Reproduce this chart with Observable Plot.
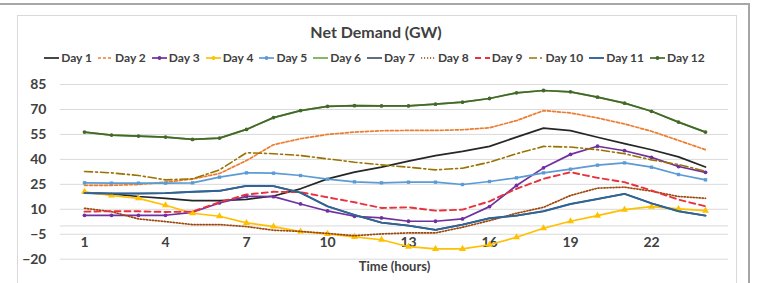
<!DOCTYPE html>
<html>
<head>
<meta charset="utf-8">
<script src="https://cdn.jsdelivr.net/npm/d3@7"></script>
<script src="https://cdn.jsdelivr.net/npm/@observablehq/plot@0.6"></script>
<style>
  html, body { margin: 0; padding: 0; background: #fff; }
  #wrap { position: relative; width: 759px; height: 283px; overflow: hidden; font-family: Lato, "Open Sans", sans-serif; }
  #outer { position: absolute; left: -4px; top: 3px; width: 754px; height: 300px; border: 2px solid #a6a6a6; box-sizing: border-box; }
  #inner { position: absolute; left: 17px; top: 15px; width: 720px; height: 300px; border: 1px solid #d9d9d9; box-sizing: border-box; }
  #title { position: absolute; left: 0; width: 752px; top: 22px; text-align: center; font-weight: bold; font-size: 16px; color: #404040; }
  #legend { position: absolute; left: 0; width: 749px; top: 50px; display: flex; justify-content: center; gap: 6px; font-weight: bold; font-size: 12px; color: #404040; }
  .item { display: flex; align-items: center; gap: 2px; }
  #chart { position: absolute; left: 0; top: 68px; }
</style>
</head>
<body>
<div id="wrap">
  <div id="outer"></div>
  <div id="inner"></div>
  <div id="title">Net Demand (GW)</div>
  <div id="legend"></div>
  <div id="chart"></div>
</div>
<script>
const hours = [1,2,3,4,5,6,7,8,9,10,11,12,13,14,15,16,17,18,19,20,21,22,23,24];
const yTicks = [85, 70, 55, 40, 25, 10, -5, -20];
const xTicks = [1, 4, 7, 10, 13, 16, 19, 22];
const seriesNames = ["Day 1","Day 2","Day 3","Day 4","Day 5","Day 6","Day 7","Day 8","Day 9","Day 10","Day 11","Day 12"];

const day1  = [19.9,19.3,17.7,16.5,15.2,15.2,16.0,18.0,22.3,28.3,32.3,35.3,38.9,42.3,44.8,47.8,53.4,58.8,57.3,53.3,49.5,45.8,41.5,35.4];
const day2  = [24.4,24.4,24.9,26.3,28.2,31.5,39.3,48.8,52.4,55.0,56.4,57.2,57.4,57.4,57.8,59.0,63.3,69.3,67.9,64.9,61.3,56.9,51.4,45.8];
const day3  = [6.4,6.4,6.4,6.4,8.2,13.8,17.8,17.6,13.2,9.0,5.8,4.8,2.8,2.8,4.2,11.6,24.3,34.9,43.0,47.9,45.2,41.2,35.7,32.2];
const day4  = [20.5,18.3,16.6,12.4,7.6,5.8,1.8,-0.4,-3.4,-4.8,-6.6,-8.3,-12.5,-13.8,-13.8,-11.3,-6.8,-1.4,2.8,6.2,9.8,11.6,10.2,9.2];
const day5  = [25.9,25.7,25.7,25.7,25.9,29.3,31.9,31.7,30.3,28.1,26.5,25.9,26.3,26.3,24.9,26.7,28.9,31.9,34.1,36.5,37.9,35.3,30.9,27.7];
const day6  = [56.4,54.6,54.0,53.4,52.0,52.8,58.0,65.1,69.3,71.9,72.3,72.1,72.1,73.2,74.4,76.6,80.0,81.4,80.6,77.4,73.8,68.9,62.4,56.4];
const day7  = [19.7,19.5,19.5,19.7,20.5,21.1,24.1,23.9,20.0,11.8,6.6,2.0,0.2,-2.4,0.8,4.6,6.2,8.8,13.2,16.2,19.3,13.6,8.8,6.2];
const day8  = [10.6,8.6,4.2,2.6,0.8,0.8,-0.4,-2.6,-3.3,-4.5,-5.9,-4.8,-4.2,-4.2,-0.8,3.2,7.6,11.2,18.3,22.7,23.3,20.9,17.7,16.6];
const day9  = [8.6,8.8,8.8,8.4,8.6,14.2,18.9,20.5,20.3,17.2,14.2,10.8,11.2,9.2,9.8,14.8,22.3,28.3,32.3,28.9,26.3,21.3,15.8,11.8];
const day10 = [32.7,31.9,30.3,27.7,28.3,33.7,44.0,43.4,42.3,40.3,38.3,36.7,35.3,33.7,34.7,38.3,43.4,47.8,47.4,45.8,43.4,39.7,36.9,32.9];
const day11 = [19.7,19.5,19.5,19.7,20.5,21.1,24.1,23.9,20.0,11.8,6.6,2.0,0.2,-2.4,0.8,4.6,6.2,8.8,13.2,16.2,19.3,13.6,8.8,6.2];
const day12 = [56.4,54.6,54.0,53.4,52.0,52.8,58.0,65.1,69.3,71.9,72.3,72.1,72.1,73.2,74.4,76.6,80.0,81.4,80.6,77.4,73.8,68.9,62.4,56.4];

const values = [day1,day2,day3,day4,day5,day6,day7,day8,day9,day10,day11,day12];

const styles = [
  {color:"#262626", dash:null, w:1.7, marker:null},
  {color:"#ED7D31", dash:"3,2", w:1.7, marker:null},
  {color:"#7030A0", dash:null, w:1.7, marker:"circle"},
  {color:"#FFC000", dash:null, w:1.7, marker:"triangle"},
  {color:"#5B9BD5", dash:null, w:1.7, marker:"square"},
  {color:"#70AD47", dash:null, w:1.7, marker:null},
  {color:"#44546A", dash:null, w:1.7, marker:null},
  {color:"#9E480E", dash:"1.2,1.8", w:1.7, marker:null},
  {color:"#E8323C", dash:"6,4", w:1.9, marker:null},
  {color:"#997300", dash:"8,3,2,3", w:1.6, marker:null},
  {color:"#2F6497", dash:null, w:1.9, marker:null},
  {color:"#43682B", dash:null, w:1.7, marker:"circle"}
];

const table = [];
seriesNames.forEach((name, i) => {
  hours.forEach((h, j) => table.push({series: name, hour: h, value: values[i][j]}));
});

const marks = [
  Plot.gridY(yTicks, {stroke: "#d9d9d9", strokeOpacity: 1}),
  Plot.ruleY([0], {stroke: "#d9d9d9"}),
  Plot.axisY(yTicks, {tickSize: 0, tickPadding: 14, label: null, fontWeight: "bold", fontSize: 14, fill: "#404040"}),
  Plot.text(xTicks, {x: d => d, frameAnchor: "bottom", dy: -12.5, fontWeight: "bold", fontSize: 14, fill: "#404040"}),
  Plot.text(["Time (hours)"], {frameAnchor: "bottom", dy: 11.5, fontWeight: "bold", fontSize: 13, fill: "#404040"})
];

seriesNames.forEach((name, i) => {
  const s = styles[i];
  const d = table.filter(r => r.series === name);
  marks.push(Plot.line(d, {x: "hour", y: "value", stroke: s.color, strokeWidth: s.w, strokeDasharray: s.dash || undefined, curve: "linear"}));
  if (s.marker) {
    marks.push(Plot.dot(d, {x: "hour", y: "value", fill: s.color, stroke: "none", symbol: s.marker, r: s.marker === "triangle" ? 2.6 : 1.9}));
  }
});

const chart = Plot.plot({
  width: 759,
  height: 215,
  marginTop: 16,
  marginBottom: 24.3,
  marginLeft: 60,
  marginRight: 31,
  x: {type: "point", domain: hours, padding: 0.5, axis: null},
  y: {domain: [-20, 85]},
  style: {fontFamily: "Lato, 'Open Sans', sans-serif", background: "transparent"},
  marks
});
document.getElementById("chart").appendChild(chart);

// legend
const legend = document.getElementById("legend");
seriesNames.forEach((name, i) => {
  const s = styles[i];
  const item = document.createElement("div");
  item.className = "item";
  const ns = "http://www.w3.org/2000/svg";
  const svg = document.createElementNS(ns, "svg");
  svg.setAttribute("width", "15"); svg.setAttribute("height", "8");
  const ln = document.createElementNS(ns, "line");
  ln.setAttribute("x1", "0"); ln.setAttribute("x2", "15"); ln.setAttribute("y1", "4"); ln.setAttribute("y2", "4");
  ln.setAttribute("stroke", s.color); ln.setAttribute("stroke-width", s.w);
  if (s.dash) ln.setAttribute("stroke-dasharray", s.dash);
  svg.appendChild(ln);
  if (s.marker) {
    const m = document.createElementNS(ns, "circle");
    m.setAttribute("cx", "7.5"); m.setAttribute("cy", "4"); m.setAttribute("r", "1.9"); m.setAttribute("fill", s.color);
    svg.appendChild(m);
  }
  const span = document.createElement("span");
  span.textContent = name;
  item.appendChild(svg); item.appendChild(span);
  legend.appendChild(item);
});
</script>
</body>
</html>
